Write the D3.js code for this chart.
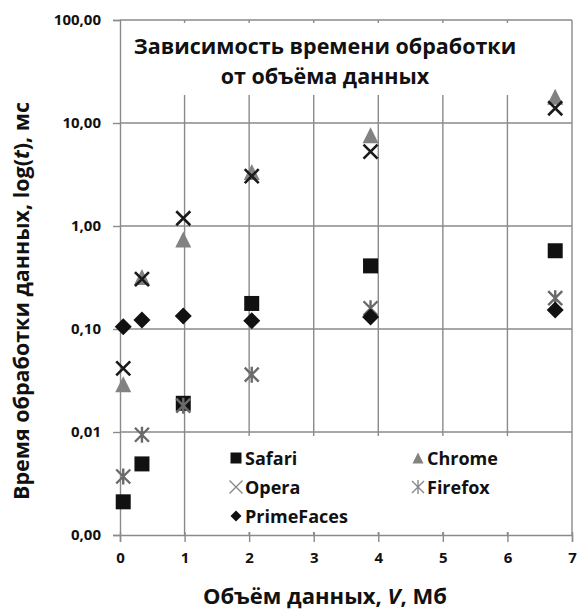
<!DOCTYPE html>
<html>
<head>
<meta charset="utf-8">
<script src="https://cdn.jsdelivr.net/npm/d3@7"></script>
<style>
  body { margin: 0; background: #fff; }
  text { font-family: "Open Sans", "DejaVu Sans", sans-serif; font-weight: bold; fill: #111; }
</style>
</head>
<body>
<div id="chart"></div>
<script>
// data
var volumes = [0.05, 0.34, 0.98, 2.04, 3.88, 6.74];
var safari = [0.0021, 0.0049, 0.019, 0.177, 0.41, 0.575];
var chrome = [0.029, 0.32, 0.74, 3.35, 7.6, 18.0];
var opera = [0.0415, 0.305, 1.19, 3.05, 5.27, 13.9];
var firefox = [0.0037, 0.0094, 0.018, 0.036, 0.159, 0.199];
var primefaces = [0.105, 0.122, 0.134, 0.12, 0.131, 0.153];
var seriesNames = ["Safari", "Chrome", "Opera", "Firefox", "PrimeFaces"];
var xTicks = [0, 1, 2, 3, 4, 5, 6, 7];
var yTicks = [0.001, 0.01, 0.1, 1, 10, 100];

var W = 577, H = 611;
var margin = {top: 20, right: 5, bottom: 76, left: 120};

var svg = d3.select("#chart").append("svg")
  .attr("width", W).attr("height", H);

var x = d3.scaleLinear().domain([0, 7]).range([margin.left, W - margin.right]);
var y = d3.scaleLog().domain([0.001, 100]).range([H - margin.bottom, margin.top]);

// marker shapes, centred on bbox
function marker(type, s) {
  var h = s / 2;
  if (type == "square") return `M${-h},${-h}h${s}v${s}h${-s}Z`;
  if (type == "triangle") return `M0,${-h}L${h},${h}L${-h},${h}Z`;
  if (type == "diamond") return `M0,${-h}L${h},0L0,${h}L${-h},0Z`;
  if (type == "x") return `M${-h},${-h}L${h},${h}M${-h},${h}L${h},${-h}`;
  if (type == "star") return `M${-h},${-h}L${h},${h}M${-h},${h}L${h},${-h}M0,${-h * 1.15}L0,${h * 1.15}`;
}

var series = [
  {name: seriesNames[0], values: safari, type: "square", size: 15, fill: "#111", stroke: "none", sw: 0,
   lsize: 11, lfill: "#111", lstroke: "none", lsw: 0},
  {name: seriesNames[1], values: chrome, type: "triangle", size: 16, fill: "#828282", stroke: "none", sw: 0,
   lsize: 11, lfill: "#828282", lstroke: "none", lsw: 0},
  {name: seriesNames[2], values: opera, type: "x", size: 14, fill: "none", stroke: "#1a1a1a", sw: 2.6,
   lsize: 13, lfill: "none", lstroke: "#888", lsw: 1.4},
  {name: seriesNames[3], values: firefox, type: "star", size: 14, fill: "none", stroke: "#6a6a6a", sw: 2.4,
   lsize: 12, lfill: "none", lstroke: "#888", lsw: 1.4},
  {name: seriesNames[4], values: primefaces, type: "diamond", size: 17, fill: "#111", stroke: "none", sw: 0,
   lsize: 11, lfill: "#111", lstroke: "none", lsw: 0}
];

var gridColor = "#8a8a8a";

// gridlines
svg.append("g").selectAll("line")
  .data(yTicks.slice(1))
  .join("line")
  .attr("x1", x(0)).attr("x2", x(7))
  .attr("y1", d => y(d)).attr("y2", d => y(d))
  .attr("stroke", gridColor).attr("stroke-width", 1.4);

svg.append("g").selectAll("line")
  .data(xTicks.slice(1))
  .join("line")
  .attr("x1", d => x(d)).attr("x2", d => x(d))
  .attr("y1", y(100)).attr("y2", y(0.001))
  .attr("stroke", gridColor).attr("stroke-width", 1.4);

// title box covers the gridlines
svg.append("rect")
  .attr("x", x(0) + 3).attr("y", y(100) + 3)
  .attr("width", x(7) - x(0) - 6).attr("height", 72)
  .attr("fill", "#fff");

// legend box
svg.append("rect")
  .attr("x", 222).attr("y", 436)
  .attr("width", x(7) - 3 - 222).attr("height", 96)
  .attr("fill", "#fff");

// axes
var yAxis = svg.append("g")
  .attr("transform", `translate(${x(0)},0)`)
  .call(d3.axisLeft(y).tickValues(yTicks).tickSize(7).tickPadding(12)
    .tickFormat(d => d.toFixed(2).replace(".", ",")));
yAxis.selectAll("line").attr("stroke", gridColor).attr("stroke-width", 1.4);
yAxis.select(".domain").attr("stroke", gridColor).attr("stroke-width", 1.4);
yAxis.selectAll("text").style("font-size", "15px").attr("fill", "#111");

var xAxis = svg.append("g")
  .attr("transform", `translate(0,${y(0.001)})`)
  .call(d3.axisBottom(x).tickValues(xTicks).tickSizeOuter(0).tickSize(7).tickPadding(10)
    .tickFormat(d3.format("d")));
xAxis.selectAll("line").attr("stroke", gridColor).attr("stroke-width", 1.4).attr("y1", -3);
xAxis.select(".domain").attr("stroke", gridColor).attr("stroke-width", 1.4);
xAxis.selectAll("text").style("font-size", "15px").attr("fill", "#111");

// points
series.forEach(function(s) {
  svg.append("g").selectAll("path")
    .data(s.values.map((v, i) => [volumes[i], v]))
    .join("path")
    .attr("transform", d => `translate(${x(d[0])},${y(d[1])})`)
    .attr("d", marker(s.type, s.size))
    .attr("fill", s.fill)
    .attr("stroke", s.stroke)
    .attr("stroke-width", s.sw);
});

// title
svg.append("text")
  .attr("x", 325).attr("y", 54)
  .attr("text-anchor", "middle")
  .style("font-size", "21.5px")
  .text("Зависимость времени обработки");
svg.append("text")
  .attr("x", 325).attr("y", 84)
  .attr("text-anchor", "middle")
  .style("font-size", "21.5px")
  .text("от объёма данных");

// legend
var legPos = [[236, 458], [418, 458], [236, 487], [418, 487], [236, 516]];
series.forEach(function(s, i) {
  var p = legPos[i];
  svg.append("path")
    .attr("transform", `translate(${p[0]},${p[1]})`)
    .attr("d", marker(s.type, s.lsize))
    .attr("fill", s.lfill)
    .attr("stroke", s.lstroke)
    .attr("stroke-width", s.lsw);
  svg.append("text")
    .attr("x", p[0] + 9).attr("y", p[1] + 7)
    .style("font-size", "18px")
    .text(s.name);
});

// axis titles
var xt = svg.append("text")
  .attr("x", 325).attr("y", 604)
  .attr("text-anchor", "middle")
  .style("font-size", "22px");
xt.append("tspan").text("Объём данных, ");
xt.append("tspan").style("font-style", "italic").text("V");
xt.append("tspan").text(", Мб");

var yt = svg.append("text")
  .attr("transform", "translate(29,301) rotate(-90)")
  .attr("text-anchor", "middle")
  .style("font-size", "21.5px");
yt.append("tspan").text("Время  обработки данных, log(");
yt.append("tspan").style("font-style", "italic").text("t");
yt.append("tspan").text("), мс");
</script>
</body>
</html>
